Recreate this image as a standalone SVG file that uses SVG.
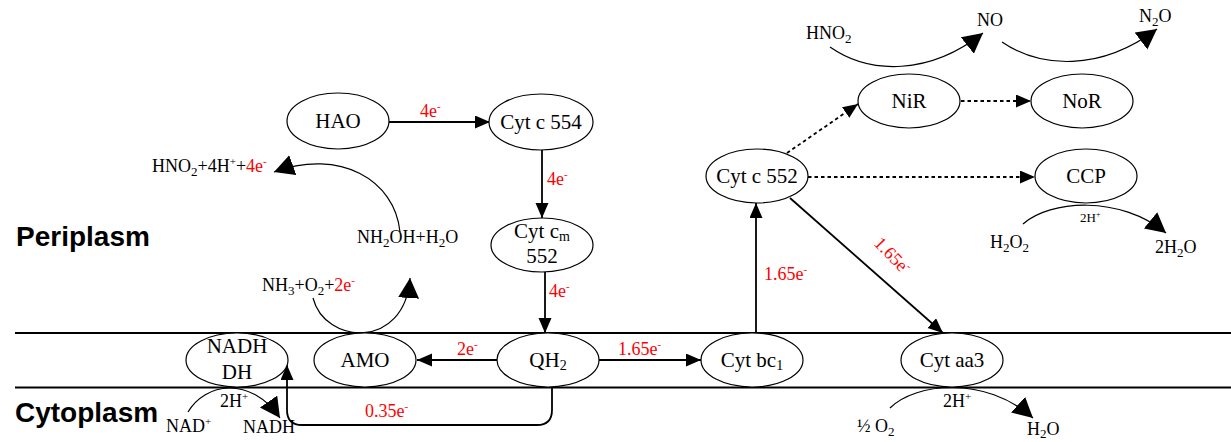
<svg xmlns="http://www.w3.org/2000/svg" width="1231" height="442" viewBox="0 0 1231 442">
<defs>
<marker id="ah" markerUnits="userSpaceOnUse" markerWidth="16" markerHeight="14" refX="15" refY="6.5" orient="auto"><path d="M0,0 L15,6.5 L0,13 z" fill="#000"/></marker>
<marker id="ahc" markerUnits="userSpaceOnUse" markerWidth="22" markerHeight="22" refX="20" refY="10.5" orient="auto"><path d="M0,0 L20,10.5 L0,21 z" fill="#000"/></marker>
</defs>
<style>
.n{fill:#fff;stroke:#000;stroke-width:1.2}
.t{font-family:"Liberation Serif","Times New Roman",serif;font-size:21px;fill:#000;text-anchor:middle}
.s{font-family:"Liberation Serif","Times New Roman",serif;font-size:18px;fill:#000}
.r{fill:#ff0000}
.e{font-family:"Liberation Serif","Times New Roman",serif;font-size:18px;fill:#ff0000}
.sup{font-size:11px}
.sub{font-size:13px}
.b{font-family:"Liberation Sans",Arial,sans-serif;font-size:28px;font-weight:bold;fill:#000}
.c{fill:none;stroke:#000;stroke-width:1.8}
.d{fill:none;stroke:#000;stroke-width:1.8;stroke-dasharray:3.5,3}
.cv{fill:none;stroke:#000;stroke-width:1.2}
.m{stroke:#000;stroke-width:2}
</style>
<rect width="1231" height="442" fill="#fff"/>
<g id="membrane">
<line class="m" x1="15" y1="333" x2="1231" y2="333"/>
<line class="m" x1="15" y1="387.5" x2="1231" y2="387.5"/>
</g>
<text class="b" x="16" y="246">Periplasm</text>
<text class="b" x="15" y="422">Cytoplasm</text>
<g id="connectors">
<line class="c" x1="389" y1="122" x2="490" y2="122" marker-end="url(#ah)"/>
<line class="c" x1="542" y1="150" x2="542" y2="218" marker-end="url(#ah)"/>
<line class="c" x1="545" y1="272" x2="545" y2="333" marker-end="url(#ah)"/>
<line class="c" x1="497" y1="360" x2="417" y2="360" marker-end="url(#ah)"/>
<line class="c" x1="599" y1="360" x2="701" y2="360" marker-end="url(#ah)"/>
<line class="c" x1="756" y1="333" x2="756" y2="203" marker-end="url(#ah)"/>
<line class="c" x1="790" y1="198" x2="943" y2="333" marker-end="url(#ah)"/>
<line class="d" x1="787" y1="153" x2="858" y2="104" marker-end="url(#ah)"/>
<line class="d" x1="961" y1="101" x2="1031" y2="101" marker-end="url(#ah)"/>
<line class="d" x1="808" y1="177" x2="1035" y2="177" marker-end="url(#ah)"/>
<path class="c" d="M552,387 L552,410 Q552,425 537,425 L302,425 Q287,425 287,410 L287,365" marker-end="url(#ah)"/>
<path class="cv" d="M313,298 C325,345 405,350 410,278" marker-end="url(#ahc)"/>
<path class="cv" d="M400,232 C395,180 340,148 274,172" marker-end="url(#ahc)"/>
<path class="cv" d="M830,47 C870,75 930,75 983,33" marker-end="url(#ahc)"/>
<path class="cv" d="M1002,42 C1040,68 1100,72 1157,29" marker-end="url(#ahc)"/>
<path class="cv" d="M1023,224 C1050,200 1120,195 1166,233" marker-end="url(#ahc)"/>
<path class="cv" d="M188,412 C205,383 250,375 280,418" marker-end="url(#ahc)"/>
<path class="cv" d="M890,408 C915,383 985,375 1033,418" marker-end="url(#ahc)"/>
</g>
<g id="edge-labels">
<text class="e" x="420" y="117">4e<tspan class="sup" dy="-7">-</tspan></text>
<text class="e" x="547" y="185">4e<tspan class="sup" dy="-7">-</tspan></text>
<text class="e" x="549" y="297">4e<tspan class="sup" dy="-7">-</tspan></text>
<text class="e" x="457" y="355">2e<tspan class="sup" dy="-7">-</tspan></text>
<text class="e" x="618" y="355">1.65e<tspan class="sup" dy="-7">-</tspan></text>
<text class="e" x="764" y="280">1.65e<tspan class="sup" dy="-7">-</tspan></text>
<text class="e" transform="translate(873,244) rotate(46)">1.65e<tspan class="sup" dy="-7">-</tspan></text>
<text class="e" x="365" y="417">0.35e<tspan class="sup" dy="-7">-</tspan></text>
</g>
<g id="chem-labels">
<text class="s" x="152" y="172">HNO<tspan class="sub" dy="4">2</tspan><tspan dy="-4">+4H</tspan><tspan class="sup" dy="-7">+</tspan><tspan dy="7">+</tspan><tspan class="r">4e</tspan><tspan class="sup r" dy="-7">-</tspan></text>
<text class="s" x="357" y="243">NH<tspan class="sub" dy="4">2</tspan><tspan dy="-4">OH+H</tspan><tspan class="sub" dy="4">2</tspan><tspan dy="-4">O</tspan></text>
<text class="s" x="262" y="291">NH<tspan class="sub" dy="4">3</tspan><tspan dy="-4">+O</tspan><tspan class="sub" dy="4">2</tspan><tspan dy="-4">+</tspan><tspan class="r">2e</tspan><tspan class="sup r" dy="-7">-</tspan></text>
<text class="s" x="806" y="39">HNO<tspan class="sub" dy="4">2</tspan></text>
<text class="s" x="977" y="26">NO</text>
<text class="s" x="1139" y="22">N<tspan class="sub" dy="4">2</tspan><tspan dy="-4">O</tspan></text>
<text class="s" x="1080" y="222" style="font-size:13px">2H<tspan style="font-size:8px" dy="-5">+</tspan></text>
<text class="s" x="990" y="248">H<tspan class="sub" dy="4">2</tspan><tspan dy="-4">O</tspan><tspan class="sub" dy="4">2</tspan></text>
<text class="s" x="1155" y="253">2H<tspan class="sub" dy="4">2</tspan><tspan dy="-4">O</tspan></text>
<text class="s" x="220" y="407">2H<tspan class="sup" dy="-7">+</tspan></text>
<text class="s" x="166" y="432">NAD<tspan class="sup" dy="-7">+</tspan></text>
<text class="s" x="243" y="433">NADH</text>
<text class="s" x="943" y="407">2H<tspan class="sup" dy="-7">+</tspan></text>
<text class="s" x="857" y="432">½ O<tspan class="sub" dy="4">2</tspan></text>
<text class="s" x="1027" y="435">H<tspan class="sub" dy="3">2</tspan><tspan dy="-3">O</tspan></text>
</g>
<g id="HAO"><ellipse class="n" cx="338" cy="121" rx="51" ry="28"/><text class="t" x="338" y="128">HAO</text></g>
<g id="Cytc554"><ellipse class="n" cx="541" cy="122" rx="52" ry="28"/><text class="t" x="541" y="129">Cyt c 554</text></g>
<g id="Cytcm552"><ellipse class="n" cx="542" cy="245" rx="51" ry="27"/><text class="t" x="542" y="238">Cyt c<tspan class="sub" style="font-size:14px" dy="3">m</tspan></text><text class="t" x="542" y="263">552</text></g>
<g id="QH2"><ellipse class="n" cx="548" cy="360" rx="51" ry="27"/><text class="t" x="548" y="367">QH<tspan style="font-size:14px" dy="3">2</tspan></text></g>
<g id="AMO"><ellipse class="n" cx="365" cy="360" rx="51" ry="27"/><text class="t" x="365" y="367">AMO</text></g>
<g id="NADHDH"><ellipse class="n" cx="237" cy="360" rx="51" ry="27"/><text class="t" x="237" y="353">NADH</text><text class="t" x="237" y="379">DH</text></g>
<g id="Cytbc1"><ellipse class="n" cx="752" cy="360" rx="51" ry="27"/><text class="t" x="752" y="367">Cyt bc<tspan style="font-size:14px" dy="3">1</tspan></text></g>
<g id="Cytaa3"><ellipse class="n" cx="952" cy="360" rx="51" ry="27"/><text class="t" x="952" y="367">Cyt aa3</text></g>
<g id="Cytc552"><ellipse class="n" cx="757" cy="176" rx="51" ry="27"/><text class="t" x="757" y="183">Cyt c 552</text></g>
<g id="NiR"><ellipse class="n" cx="909" cy="101" rx="51" ry="27"/><text class="t" x="909" y="108">NiR</text></g>
<g id="NoR"><ellipse class="n" cx="1082" cy="101" rx="51" ry="27"/><text class="t" x="1082" y="108">NoR</text></g>
<g id="CCP"><ellipse class="n" cx="1086" cy="176" rx="51" ry="27"/><text class="t" x="1086" y="183">CCP</text></g>
</svg>
